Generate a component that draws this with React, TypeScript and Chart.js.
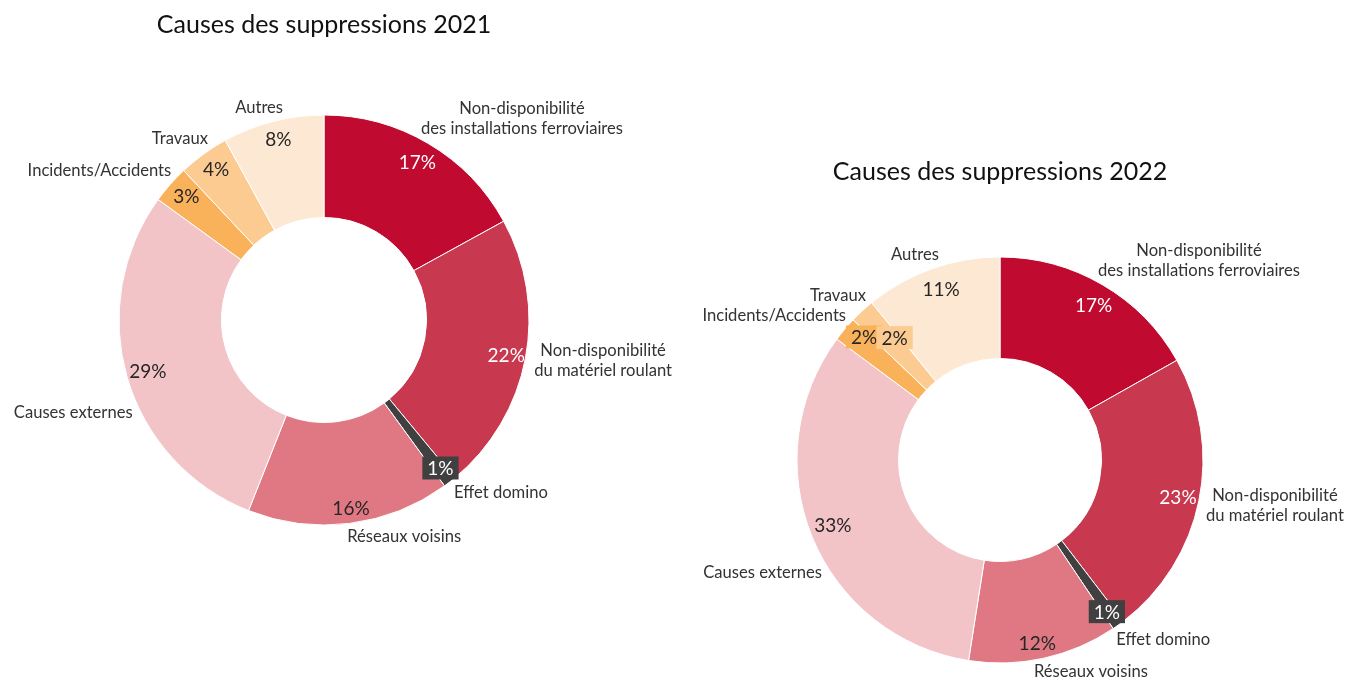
import React, { useEffect, useRef } from 'react';
import { Chart, registerables } from 'chart.js';

Chart.register(...registerables);

const categories = [
  'Non-disponibilité\ndes installations ferroviaires',
  'Non-disponibilité\ndu matériel roulant',
  'Effet domino',
  'Réseaux voisins',
  'Causes externes',
  'Incidents/Accidents',
  'Travaux',
  'Autres',
];
const values2021 = [17, 22, 1, 16, 29, 3, 4, 8];
const values2022 = [17, 23, 1, 12, 33, 2, 2, 11];
const title2021 = 'Causes des suppressions 2021';
const title2022 = 'Causes des suppressions 2022';

const sliceColors = ['#C00A30', '#C8384F', '#404040', '#E07883', '#F2C4C8', '#F9B15A', '#FBCB92', '#FDE9D3'];
const pctTextColors = ['#FFFFFF', '#FFFFFF', '#FFFFFF', '#262626', '#262626', '#262626', '#262626', '#262626'];

const FONT = 'Lato, "Open Sans", "Noto Sans", sans-serif';

const labelPlugin = {
  id: 'sliceLabels',
  afterDatasetsDraw(chart: any, _args: any, opts: any) {
    const ctx = chart.ctx;
    const meta = chart.getDatasetMeta(0);
    const ds = chart.data.datasets[0];
    const labels = chart.data.labels;
    meta.data.forEach((arc: any, i: number) => {
      const p = arc.getProps(['x', 'y', 'startAngle', 'endAngle', 'innerRadius', 'outerRadius'], true);
      const mid = (p.startAngle + p.endAngle) / 2;
      const cos = Math.cos(mid);
      const sin = Math.sin(mid);
      ctx.save();
      // percentage label
      const pn = (opts.pctNudges && opts.pctNudges[i]) || [0, 0];
      const pr = p.outerRadius * 0.895;
      const px = p.x + cos * pr + pn[0];
      const py = p.y + sin * pr + pn[1];
      const txt = ds.data[i] + '%';
      ctx.font = `${opts.pctSize}px ${FONT}`;
      ctx.textAlign = 'center';
      ctx.textBaseline = 'middle';
      if (ds.data[i] <= 2) {
        const w = ctx.measureText(txt).width + 10;
        const h = opts.pctSize + 4;
        ctx.fillStyle = ds.backgroundColor[i];
        ctx.fillRect(px - w / 2, py - h / 2, w, h);
      }
      ctx.fillStyle = pctTextColors[i];
      ctx.fillText(txt, px, py + 1);
      // category label
      const lines = String(labels[i]).split('\n');
      ctx.font = `${opts.catSize}px ${FONT}`;
      const lh = opts.catLineHeight;
      const bw = Math.max(...lines.map((l: string) => ctx.measureText(l).width));
      const ar = p.outerRadius + 12;
      const ax = p.x + cos * ar;
      const ay = p.y + sin * ar;
      const cn = (opts.catNudges && opts.catNudges[i]) || [0, 0];
      const left = cos >= 0 ? ax + cn[0] : ax - bw + cn[0];
      const cx = left + bw / 2;
      const cy = ay + cn[1];
      ctx.fillStyle = '#333333';
      lines.forEach((l: string, k: number) => {
        ctx.fillText(l, cx, cy - ((lines.length - 1) * lh) / 2 + k * lh);
      });
      ctx.restore();
    });
  },
};

type DonutProps = {
  left: number;
  width: number;
  values: number[];
  title: string;
  padding: any;
  titlePadding: any;
  radius: number;
  catNudges: number[][];
  pctNudges: number[][];
};

function Donut(props: DonutProps) {
  const ref = useRef<HTMLCanvasElement>(null);
  useEffect(() => {
    const chart = new Chart(ref.current as HTMLCanvasElement, {
      type: 'doughnut',
      data: {
        labels: categories,
        datasets: [
          {
            data: props.values,
            backgroundColor: sliceColors,
            borderColor: '#FFFFFF',
            borderWidth: 1,
            hoverOffset: 0,
          },
        ],
      },
      options: {
        responsive: false,
        animation: false,
        events: [],
        radius: props.radius,
        cutout: '50%',
        layout: { padding: props.padding },
        plugins: {
          legend: { display: false },
          tooltip: { enabled: false },
          title: {
            display: true,
            text: props.title,
            color: '#111111',
            font: { family: FONT, size: 25, weight: 'normal', lineHeight: 1.2 },
            padding: props.titlePadding,
          },
          sliceLabels: {
            pctSize: 19,
            catSize: 16.6,
            catLineHeight: 20,
            catNudges: props.catNudges,
            pctNudges: props.pctNudges,
          },
        } as any,
      },
      plugins: [labelPlugin as any],
    });
    return () => chart.destroy();
  }, []);
  return (
    <canvas
      ref={ref}
      width={props.width}
      height={679}
      style={{ position: 'absolute', left: props.left, top: 0, width: props.width, height: 679 }}
    />
  );
}

export default function App() {
  return (
    <div style={{ position: 'fixed', left: 0, top: 0, width: 1348, height: 679, background: '#FFFFFF', overflow: 'hidden' }}>
      <Donut
        left={0}
        width={720}
        values={values2021}
        title={title2021}
        radius={205}
        padding={{ left: 119, right: 191, top: 0, bottom: 154 }}
        titlePadding={{ top: 10, bottom: 75 }}
        catNudges={[[-13.5, -15], [-3, 0], [-3, 1.5], [-4, 1], [17, 32], [10, -6], [11.5, -6], [13, -2]]}
        pctNudges={[[0, 0], [2, 0], [4, 3], [4, 6], [0, 0], [0, -3], [0, -3], [0, -3]]}
      />
      <Donut
        left={680}
        width={668}
        values={values2022}
        title={title2022}
        radius={203}
        padding={{ left: 117, right: 145, top: 140, bottom: 16 }}
        titlePadding={{ top: 17, bottom: 70 }}
        catNudges={[[-10.5, -14], [-4.6, 2], [-9, 5], [-12.5, 2], [21, 31], [10.5, -5.5], [12, -7], [11, -2.5]]}
        pctNudges={[[2, 2], [0, 0], [1, 4], [-2, 5], [1, -4], [3, -6], [18, 11], [2, 0]]}
      />
    </div>
  );
}
